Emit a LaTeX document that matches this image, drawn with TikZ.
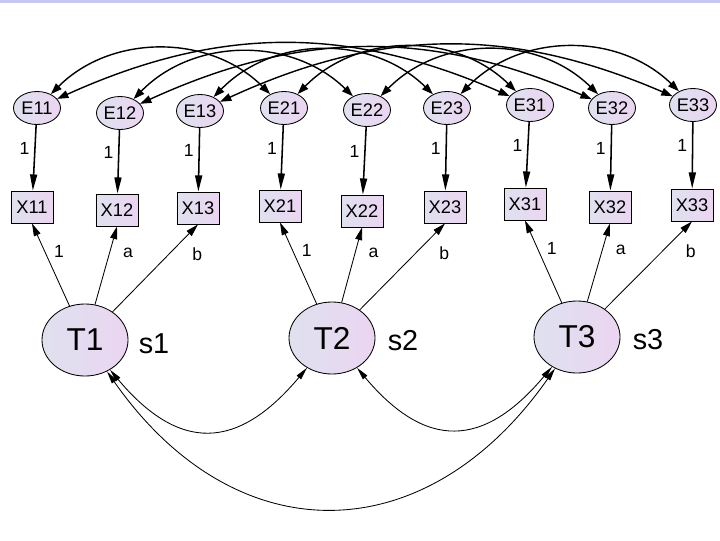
\documentclass[tikz,border=0pt]{standalone}
\usepackage{fontspec}
\setmainfont{Liberation Sans}
\usetikzlibrary{shapes.geometric,arrows.meta}
\definecolor{amosL}{HTML}{DFE1EF}
\definecolor{amosR}{HTML}{EBD5F1}
\definecolor{band}{HTML}{C6C8F2}
\begin{document}
\begin{tikzpicture}[x=0.025cm,y=0.025cm,
    err/.style={ellipse,draw,line width=0.6pt,left color=amosL,right color=amosR,minimum width=1.175cm,minimum height=0.825cm,inner sep=0pt,font=\fontsize{13}{15}\selectfont},
    obs/.style={rectangle,draw,line width=0.6pt,left color=amosL,right color=amosR,minimum width=1.05cm,minimum height=0.8cm,inner sep=0pt,font=\fontsize{13}{15}\selectfont},
    trait/.style={ellipse,draw,line width=0.6pt,left color=amosL,right color=amosR,minimum width=2.15cm,minimum height=1.8cm,inner sep=0pt,font=\fontsize{22.5}{26}\selectfont},
    lbl/.style={font=\fontsize{12.5}{14}\selectfont},
    path/.style={-{Triangle[length=11.5pt,width=5pt]},line width=1.1pt},
    load/.style={-{Triangle[length=9pt,width=5pt]},line width=0.6pt},
    cov/.style={{Triangle[length=8pt,width=5.5pt]}-{Triangle[length=8pt,width=5.5pt]},line width=1pt},
    tcov/.style={{Triangle[length=9pt,width=4pt]}-{Triangle[length=9pt,width=4pt]},line width=0.6pt}]
  \useasboundingbox (0,0) rectangle (720,-540);
  \fill[band] (0,0) rectangle (720,-2.5);
  % Errors and indicators
  \foreach \n/\ex/\ey/\xx/\xy in {11/37/108/32/207, 12/120/113/117/210, 13/200/111/198/208,
      21/284/108/280/206, 22/367/110/362/211, 23/447/108/445/207,
      31/530/105/525/204, 32/612/108/610/207, 33/693/105/692/205} {
    \node[err] (E\n) at (\ex,-\ey) {E\n};
    \node[obs] (X\n) at (\xx,-\xy) {X\n};
    \draw[path] (E\n) -- node[left,pos=0.36,lbl] {1} (X\n);
  }
  % Traits
  \node[trait] (T1) at (85,-340) {T1};
  \node[trait] (T2) at (332,-338) {T2};
  \node[trait] (T3) at (577,-337) {T3};
  \node[font=\fontsize{20.5}{24}\selectfont] (s1) at (154,-344) {s1};
  \node[font=\fontsize{20.5}{24}\selectfont] (s2) at (403,-341) {s2};
  \node[font=\fontsize{20.5}{24}\selectfont] (s3) at (648,-340) {s3};
  % Loadings
  \foreach \i in {1,2,3}
    \foreach \m/\l/\d in {1/1/3pt, 2/a/6pt, 3/b/13pt}
      \draw[load] (T\i) -- node[pos=0.66,right=\d,lbl] {\l} (X\i\m.south);
  % Error covariances
  \foreach \m in {1,2,3} {
    \draw[cov] (E1\m) to[bend left=45] (E2\m);
    \draw[cov] (E2\m) to[bend left=45] (E3\m);
    \draw[cov] (E1\m) to[bend left=24] (E3\m);
  }
  % Trait covariances
  \draw[tcov] (T1) to[out=-50,in=-130,looseness=1.4] (T2);
  \draw[tcov] (T2) to[out=-50,in=-130,looseness=1.4] (T3);
  \draw[tcov] (T1) to[out=-55,in=-125,looseness=1.28] (T3);
\end{tikzpicture}
\end{document}
